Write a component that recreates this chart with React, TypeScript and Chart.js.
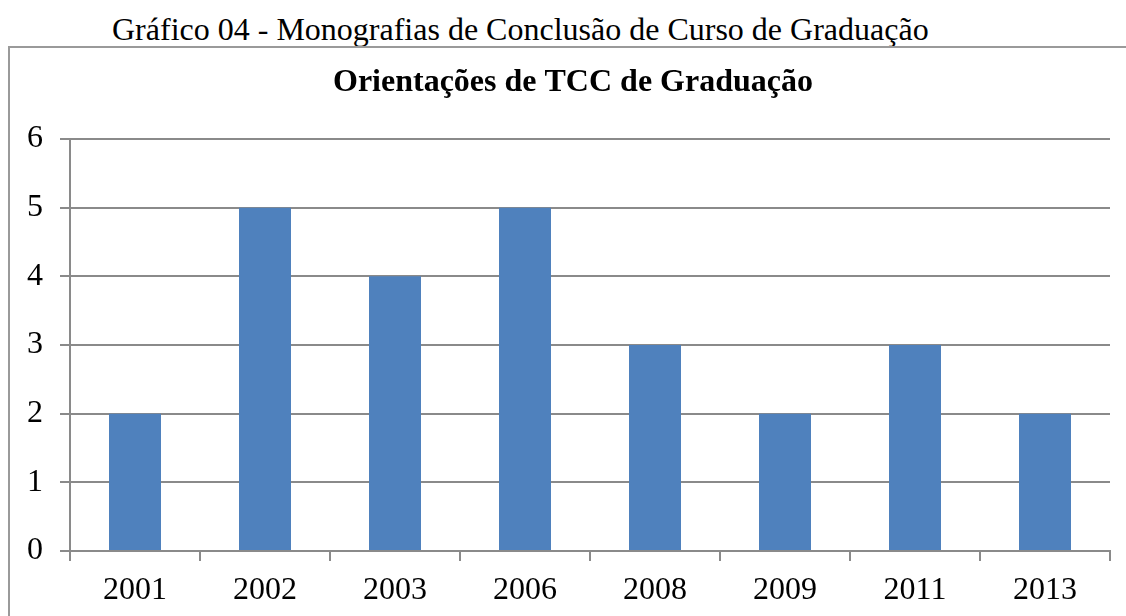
import React, { useEffect, useRef } from "react";
import { Chart, registerables } from "chart.js";

Chart.register(...registerables);

const caption = "Gráfico 04 - Monografias de Conclusão de Curso de Graduação";
const chartTitle = "Orientações de TCC de Graduação";
const years = ["2001", "2002", "2003", "2006", "2008", "2009", "2011", "2013"];
const counts = [2, 5, 4, 5, 3, 2, 3, 2];
const yMin = 0;
const yMax = 6;
const yStep = 1;

const SERIF = "'Liberation Serif', 'Times New Roman', serif";
const GRID = "#8a8a8a";
const CANVAS_W = 1146;
const CANVAS_H = 616;

export default function App() {
  const ref = useRef<HTMLCanvasElement | null>(null);

  useEffect(() => {
    document.body.style.margin = "0";
    const canvas = ref.current;
    if (!canvas) return;
    const chart = new Chart(canvas, {
      type: "bar",
      data: {
        labels: years,
        datasets: [
          {
            data: counts,
            backgroundColor: "#4F81BD",
            borderWidth: 0,
            categoryPercentage: 0.8,
            barPercentage: 0.5,
            yAxisID: "y",
          },
        ],
      },
      options: {
        responsive: false,
        animation: false,
        layout: { padding: { left: 0, right: 0, top: 0, bottom: 0 } },
        plugins: {
          legend: { display: false },
          tooltip: { enabled: false },
          title: {
            display: true,
            text: chartTitle,
            color: "#000",
            font: { family: SERIF, size: 32, weight: "bold", lineHeight: 1.2 },
            padding: { top: 64, bottom: 36.6 },
          },
        },
        scales: {
          x: {
            grid: {
              display: true,
              drawOnChartArea: false,
              drawTicks: true,
              tickLength: 10,
              color: GRID,
              lineWidth: 2,
              offset: true,
            },
            border: { display: true, color: GRID, width: 2 },
            ticks: {
              color: "#000",
              font: { family: SERIF, size: 32, lineHeight: 1.2 },
              padding: 10,
              maxRotation: 0,
            },
            afterFit: (scale: any) => {
              scale.height = 65;
            },
          },
          y: {
            position: "left",
            min: yMin,
            max: yMax,
            grid: {
              color: GRID,
              lineWidth: 2,
              drawTicks: true,
              tickLength: 10,
            },
            border: { display: true, color: GRID, width: 2 },
            ticks: {
              stepSize: yStep,
              color: "#000",
              font: { family: SERIF, size: 32, lineHeight: 1.2 },
              padding: 17,
            },
            afterFit: (scale: any) => {
              scale.width = 70;
            },
          },
          spacer: {
            type: "linear",
            position: "right",
            display: true,
            grid: { display: false, drawTicks: false },
            border: { display: false },
            ticks: { display: false },
            afterFit: (scale: any) => {
              scale.width = 36;
            },
          },
        },
      },
    });
    return () => chart.destroy();
  }, []);

  return (
    <div
      style={{
        position: "relative",
        width: 1126,
        height: 616,
        overflow: "hidden",
        background: "#fff",
      }}
    >
      <div
        style={{
          position: "absolute",
          left: 112,
          top: 13,
          fontFamily: SERIF,
          fontSize: 32,
          lineHeight: 1,
          whiteSpace: "nowrap",
          color: "#000",
        }}
      >
        {caption}
      </div>
      <div
        style={{
          position: "absolute",
          left: 8,
          top: 46,
          width: 1300,
          height: 800,
          borderLeft: "2px solid #9a9a9a",
          borderTop: "2px solid #9a9a9a",
        }}
      />
      <canvas
        ref={ref}
        width={CANVAS_W}
        height={CANVAS_H}
        style={{ position: "absolute", left: 0, top: 0, display: "block" }}
      />
    </div>
  );
}
